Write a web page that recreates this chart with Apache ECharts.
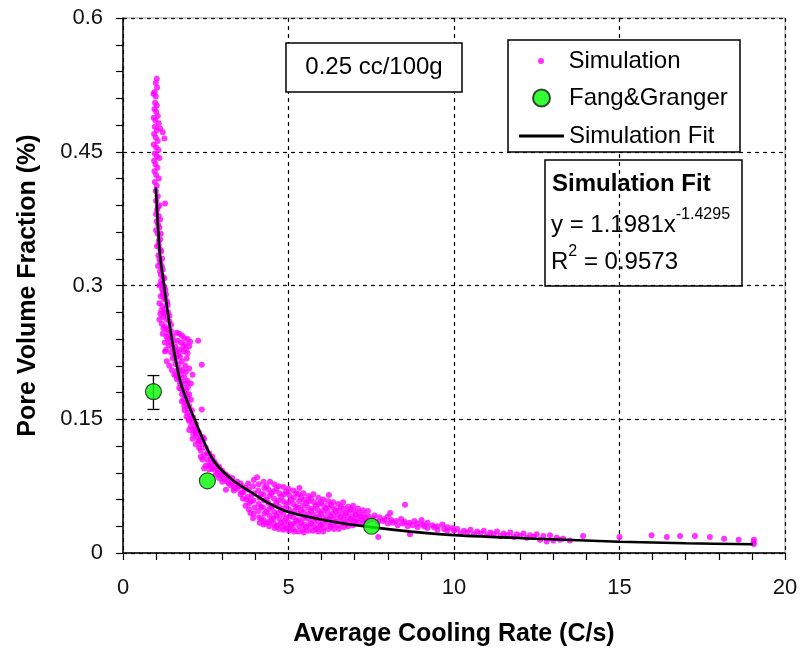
<!DOCTYPE html>
<html>
<head>
<meta charset="utf-8">
<script src="https://cdn.jsdelivr.net/npm/echarts@6/dist/echarts.min.js"></script>
<style>
html,body{margin:0;padding:0;background:#fff;}
#chart{width:802px;height:654px;}
</style>
</head>
<body>
<div id="chart"></div>
<script>
// ---- Data ----
const xTicks = [0, 5, 10, 15, 20];
const yTicks = [0, 0.15, 0.3, 0.45, 0.6];

// Simulation cloud: vertical streak near x~1
const simStreak = [
[1.02,0.532],[0.99,0.527],[1.03,0.522],[0.96,0.517],[0.92,0.515],[0.99,0.512],
[0.97,0.505],[1.02,0.502],[0.95,0.498],[1.0,0.495],[1.05,0.49],[0.93,0.488],[0.98,0.485],
[1.08,0.482],[0.96,0.478],[1.12,0.476],[1.02,0.474],[0.94,0.47],[1.2,0.472],[1.25,0.465],
[0.99,0.466],[1.05,0.462],[0.93,0.458],[1.0,0.455],[1.07,0.452],[0.96,0.448],[1.02,0.445],
[1.1,0.443],[0.94,0.44],[0.98,0.436],[1.04,0.432],[0.95,0.428],[1.0,0.424],[1.08,0.42],
[0.96,0.416],[1.02,0.412],[0.99,0.406],[1.05,0.40],[1.0,0.395],[1.1,0.39],[1.27,0.392],
[1.03,0.385],[1.08,0.378],[1.02,0.372],[1.1,0.365],[1.05,0.358],[1.12,0.352],[1.08,0.345],
[1.15,0.338],[1.1,0.33],[1.17,0.322],[1.12,0.316],[1.2,0.31],[1.15,0.305],[1.22,0.3],[1.28,0.295],
[1.06,0.388],[1.0,0.38],[1.12,0.374],[1.06,0.368],[1.0,0.362],[1.14,0.358],[1.08,0.35],
[1.03,0.344],[1.13,0.34],[1.07,0.334],[1.18,0.33],[1.12,0.326],[1.06,0.322],[1.2,0.318],
[1.14,0.312],[1.25,0.308],[1.1,0.3],[1.18,0.296]
];
// Simulation cloud: knee between y 0.30 and 0.12
const simKnee = [
[1.17,0.302],[1.25,0.298],[1.21,0.294],[1.3,0.29],[1.14,0.288],[1.24,0.285],[1.33,0.282],
[1.1,0.28],[1.19,0.277],[1.28,0.274],[1.36,0.27],[1.13,0.268],[1.22,0.265],[1.32,0.262],
[1.4,0.26],[1.17,0.257],[1.27,0.254],[1.36,0.251],[1.45,0.249],[1.2,0.246],[1.31,0.243],
[1.42,0.24],[1.5,0.243],[1.62,0.247],[1.7,0.246],[1.78,0.244],[1.85,0.241],[1.95,0.24],
[2.03,0.237],[2.27,0.238],[1.65,0.238],[1.75,0.236],[1.88,0.234],[1.26,0.236],[1.38,0.233],
[1.48,0.231],[1.58,0.232],[1.7,0.228],[1.82,0.226],[1.95,0.224],[1.3,0.228],[1.45,0.225],
[1.55,0.222],[1.27,0.226],[1.32,0.215],[1.4,0.21],[1.48,0.205],[1.55,0.2],[1.63,0.195],
[1.72,0.19],[1.8,0.185],[1.6,0.218],[1.68,0.212],[1.78,0.215],[1.88,0.21],[2.0,0.207],
[2.38,0.211],[2.1,0.2],[1.65,0.205],[1.75,0.2],[1.85,0.197],[1.95,0.193],[2.05,0.19],
[1.7,0.185],[1.78,0.178],[1.9,0.182],[2.0,0.178],[1.82,0.172],[1.9,0.168],[2.0,0.165],
[1.86,0.16],[1.95,0.157],[2.05,0.154],[2.38,0.161],[1.98,0.15],[2.1,0.147],[2.05,0.142],
[2.15,0.14],[2.25,0.137],[2.12,0.134],[2.22,0.131],[2.35,0.13],[2.45,0.128],
[1.2,0.29],[1.28,0.286],[1.35,0.278],[1.16,0.272],[1.25,0.27],[1.3,0.268],[1.4,0.266],
[1.1,0.262],[1.45,0.256],[1.22,0.252],[1.32,0.25],[1.4,0.245],[1.52,0.238],[1.35,0.24],
[1.44,0.236],[1.55,0.228],[1.62,0.226],[1.5,0.218],[1.58,0.212],[1.66,0.222],[1.72,0.22],
[1.82,0.232],[1.9,0.228],[2.0,0.232],[1.92,0.218],[1.7,0.206],[1.8,0.205],[1.9,0.203],
[1.6,0.2],[1.68,0.196],[1.78,0.192],[1.88,0.19],[1.96,0.186],[1.75,0.184],[1.85,0.18],
[1.95,0.175],[1.88,0.176],[1.78,0.17],[1.95,0.17],[2.05,0.172],[1.85,0.165],[1.95,0.162],
[2.08,0.16],[1.92,0.153],[2.0,0.148],[2.12,0.152],[2.2,0.145],[2.0,0.138],[2.18,0.138],
[2.3,0.135],[2.1,0.128],[2.28,0.126],[2.4,0.13],[2.2,0.122]
];
// Simulation cloud: bend between x 2.2 and 3.9
const simBend = [
[2.2,0.135],[2.3,0.125],[2.4,0.122],[2.35,0.115],[2.5,0.118],[2.45,0.11],[2.6,0.112],
[2.55,0.105],[2.7,0.108],[2.65,0.1],[2.8,0.1],[2.75,0.095],[2.9,0.097],[2.85,0.09],
[3.0,0.092],[2.95,0.087],[3.1,0.088],[3.05,0.083],[3.2,0.085],[3.15,0.08],[3.3,0.08],
[3.25,0.076],[3.4,0.078],[3.35,0.073],[3.5,0.075],[2.4,0.105],[2.5,0.098],[2.45,0.095],
[2.6,0.094],[2.3,0.118],[3.11,0.071],[3.35,0.07],[3.64,0.068],[3.89,0.065],
[2.35,0.108],[2.55,0.112],[2.65,0.106],[2.75,0.103],[2.6,0.098],[2.7,0.094],[2.85,0.095],
[2.95,0.093],[2.8,0.088],[2.9,0.084],[3.05,0.089],[3.15,0.086],[3.0,0.08],[3.2,0.078],
[3.3,0.084],[3.45,0.08],[3.45,0.072],[3.55,0.078],[3.7,0.073],[3.55,0.066],[3.72,0.06],
[3.86,0.058],[3.7,0.053],[3.85,0.045]
];
// Simulation cloud: wide cluster between x 3.6 and 7.4
const simCloud = [
[3.6,0.075],[3.6,0.068],[3.62,0.061],
[3.78,0.078],[3.8,0.071],[3.77,0.063],[3.82,0.056],[3.8,0.049],
[3.95,0.082],[3.93,0.075],[3.96,0.067],[3.94,0.059],[3.97,0.051],[3.95,0.044],[3.93,0.039],
[4.05,0.085],[4.1,0.077],[4.08,0.07],[4.12,0.062],[4.1,0.055],[4.09,0.047],[4.11,0.04],[4.13,0.034],
[4.25,0.08],[4.27,0.073],[4.24,0.066],[4.26,0.059],[4.23,0.051],[4.27,0.044],[4.25,0.037],[4.24,0.032],
[4.44,0.08],[4.4,0.071],[4.42,0.064],[4.39,0.056],[4.41,0.049],[4.43,0.042],[4.4,0.035],[4.42,0.03],
[4.57,0.077],[4.55,0.069],[4.56,0.061],[4.54,0.053],[4.57,0.046],[4.55,0.039],[4.56,0.033],[4.58,0.028],
[4.7,0.075],[4.72,0.067],[4.69,0.059],[4.71,0.052],[4.7,0.045],[4.73,0.038],[4.7,0.031],[4.71,0.027],
[4.85,0.074],[4.87,0.066],[4.84,0.058],[4.86,0.05],[4.85,0.043],[4.88,0.036],[4.86,0.03],[4.84,0.026],
[5.0,0.072],[5.02,0.065],[4.99,0.057],[5.01,0.049],[5.03,0.041],[5.0,0.034],[5.02,0.028],[5.01,0.025],
[5.15,0.07],[5.16,0.062],[5.14,0.055],[5.17,0.047],[5.15,0.04],[5.16,0.033],[5.14,0.027],[5.17,0.024],
[5.33,0.073],[5.3,0.066],[5.32,0.058],[5.29,0.051],[5.31,0.044],[5.3,0.037],[5.32,0.03],[5.3,0.024],
[5.45,0.067],[5.47,0.06],[5.44,0.053],[5.46,0.046],[5.45,0.039],[5.47,0.032],[5.44,0.026],[5.46,0.023],
[5.6,0.064],[5.62,0.058],[5.59,0.051],[5.61,0.044],[5.6,0.038],[5.62,0.031],[5.61,0.025],
[5.75,0.066],[5.77,0.057],[5.74,0.05],[5.76,0.043],[5.75,0.036],[5.77,0.03],[5.74,0.025],
[5.9,0.062],[5.92,0.055],[5.89,0.048],[5.91,0.041],[5.9,0.035],[5.92,0.029],[5.9,0.024],
[6.05,0.06],[6.07,0.053],[6.04,0.047],[6.06,0.04],[6.05,0.034],[6.07,0.028],[6.05,0.024],
[6.22,0.065],[6.2,0.058],[6.21,0.051],[6.19,0.045],[6.22,0.039],[6.2,0.033],[6.21,0.027],
[6.35,0.057],[6.37,0.05],[6.34,0.044],[6.36,0.038],[6.35,0.032],[6.37,0.027],
[6.5,0.055],[6.52,0.048],[6.49,0.042],[6.51,0.036],[6.5,0.031],[6.52,0.027],
[6.65,0.057],[6.67,0.05],[6.64,0.044],[6.66,0.038],[6.65,0.033],[6.67,0.029],
[6.8,0.052],[6.82,0.046],[6.79,0.04],[6.81,0.035],[6.8,0.03],
[6.95,0.053],[6.97,0.047],[6.94,0.041],[6.96,0.036],[6.95,0.031],
[7.1,0.05],[7.12,0.045],[7.09,0.039],[7.11,0.034],
[7.25,0.048],[7.27,0.043],[7.24,0.037],[7.26,0.033],
[7.4,0.047],[7.42,0.041],[7.39,0.036],
[4.17,0.066],[4.17,0.052],[4.17,0.038],[4.33,0.075],[4.33,0.06],[4.33,0.046],[4.33,0.033],
[4.48,0.067],[4.48,0.052],[4.48,0.037],[4.63,0.072],[4.63,0.056],[4.63,0.042],[4.63,0.03],
[4.78,0.063],[4.78,0.048],[4.78,0.034],[4.93,0.069],[4.93,0.054],[4.93,0.039],[4.93,0.028],
[5.08,0.06],[5.08,0.045],[5.08,0.031],[5.23,0.067],[5.23,0.052],[5.23,0.036],[5.38,0.062],
[5.38,0.048],[5.38,0.034],[5.53,0.056],[5.53,0.041],[5.53,0.029],[5.68,0.061],[5.68,0.047],
[5.68,0.033],[5.83,0.053],[5.83,0.039],[5.83,0.027],[5.98,0.057],[5.98,0.044],[5.98,0.031],
[6.13,0.05],[6.13,0.037],[6.28,0.054],[6.28,0.041],[6.28,0.03],[6.43,0.047],[6.43,0.035],
[6.58,0.052],[6.58,0.04],[6.73,0.045],[6.73,0.033],[6.88,0.049],[6.88,0.038],[7.03,0.043],
[7.03,0.035],[7.18,0.041],[7.33,0.039]
];
// Simulation cloud: long tail
const simTail = [
[7.6,0.042],[7.75,0.04],[7.9,0.038],[8.0,0.041],[8.1,0.037],[8.25,0.036],[8.4,0.038],
[8.5,0.035],[8.65,0.034],[8.8,0.036],[8.9,0.033],[9.05,0.032],[9.2,0.034],[9.35,0.031],
[9.5,0.03],[9.65,0.032],[9.8,0.029],[9.95,0.028],[7.7,0.035],[8.0,0.033],[8.3,0.031],
[8.6,0.03],[8.9,0.029],[9.2,0.028],[9.5,0.026],[9.8,0.025],[8.52,0.054],[8.07,0.045],
[9.02,0.037],[7.71,0.018],[8.67,0.021],
[10.1,0.027],[10.3,0.025],[10.5,0.026],[10.7,0.024],[10.9,0.025],[11.1,0.023],[11.3,0.024],
[11.5,0.022],[11.7,0.023],[11.9,0.021],[12.1,0.022],[12.3,0.02],[12.5,0.021],[12.7,0.019],
[12.9,0.02],[13.1,0.017],[13.3,0.016],[13.5,0.014],[10.2,0.022],[10.6,0.021],[11.0,0.02],
[11.4,0.019],[11.8,0.018],[12.2,0.017],[12.6,0.015],[12.8,0.013],[13.0,0.014],[13.9,0.019],
[7.55,0.038],[7.85,0.036],[8.15,0.034],[8.45,0.033],[8.75,0.031],[9.1,0.03],[9.4,0.029],
[9.7,0.027],[10.0,0.025],[10.4,0.023],[10.8,0.022],[11.2,0.021],[11.6,0.02],[12.0,0.019],
[12.4,0.018],[13.2,0.015],
[15.0,0.018],[15.97,0.02],[16.43,0.018],[16.83,0.019],[17.28,0.019],[17.73,0.018],
[18.16,0.016],[18.6,0.015],[19.06,0.015],[19.05,0.012],[19.06,0.01]
];

// Fang & Granger measurements (error bar only on the first one)
const fangX = [0.92, 2.55, 7.51];
const fangY = [0.181, 0.081, 0.030];
const fangLow = [0.161, 0.081, 0.030];
const fangHigh = [0.199, 0.081, 0.030];

// Simulation fit curve
const fitX = [0.99, 1.05, 1.12, 1.22, 1.32, 1.5, 1.75, 2.15, 2.73, 3.3, 3.84, 4.4, 5.0, 6.35, 7.5, 8.7, 10.0, 12.5, 15.0, 17.0, 19.03];
const fitY = [0.41, 0.37, 0.333, 0.306, 0.278, 0.235, 0.19, 0.151, 0.104, 0.082, 0.069, 0.056, 0.046, 0.035, 0.029, 0.024, 0.020, 0.016, 0.0127, 0.011, 0.0098];

// ---- Build chart ----
const FONT = "'Liberation Sans', Arial, sans-serif";
const simData = [].concat(simStreak, simKnee, simBend, simCloud, simTail);
const fangData = fangX.map((x, i) => [x, fangY[i]]);
const errData = fangX.map((x, i) => [x, fangLow[i], fangHigh[i]]).filter(d => d[2] > d[1]);
const fitData = fitX.map((x, i) => [x, fitY[i]]);

const chart = echarts.init(document.getElementById('chart'), null, {renderer: 'canvas'});

const legendCommon = {
  orient: 'vertical', padding: 0, itemWidth: 45, selectedMode: false,
  textStyle: {fontFamily: FONT, fontSize: 24, color: '#000', lineHeight: 24}, z: 10
};

chart.setOption({
  animation: false,
  backgroundColor: '#fff',
  grid: {left: 123, right: 17, top: 18, bottom: 101, show: true, borderColor: '#a0a0a0', borderWidth: 1, backgroundColor: 'transparent'},
  xAxis: {
    type: 'value', min: xTicks[0], max: xTicks[xTicks.length - 1], interval: 5,
    name: 'Average Cooling Rate (C/s)', nameLocation: 'middle', nameGap: 69,
    nameTextStyle: {fontFamily: FONT, fontSize: 25, fontWeight: 'bold', color: '#000'},
    axisLine: {show: true, onZero: false, lineStyle: {color: '#000', width: 1.5}},
    axisTick: {show: true, inside: false, length: 7, lineStyle: {color: '#000', width: 1.2}},
    minorTick: {show: true, splitNumber: 5, length: 7, lineStyle: {color: '#000', width: 1.2}},
    axisLabel: {margin: 24, fontFamily: FONT, fontSize: 22, color: '#111'},
    splitLine: {show: true, lineStyle: {color: '#000', type: [4, 4], width: 1.2}}
  },
  yAxis: {
    type: 'value', min: yTicks[0], max: yTicks[yTicks.length - 1], interval: 0.15,
    name: 'Pore Volume Fraction (%)', nameLocation: 'middle', nameGap: 82,
    nameTextStyle: {fontFamily: FONT, fontSize: 25, fontWeight: 'bold', color: '#000'},
    axisLine: {show: true, onZero: false, lineStyle: {color: '#000', width: 1.5}},
    axisTick: {show: true, inside: false, length: 7, lineStyle: {color: '#000', width: 1.2}},
    minorTick: {show: true, splitNumber: 5, length: 7, lineStyle: {color: '#000', width: 1.2}},
    axisLabel: {margin: 20, fontFamily: FONT, fontSize: 22, color: '#111'},
    splitLine: {show: true, lineStyle: {color: '#000', type: [4, 4], width: 1.2}}
  },
  legend: [
    Object.assign({}, legendCommon, {left: 538, top: 49, itemHeight: 6, data: [{name: 'Simulation', icon: 'circle'}]}),
    Object.assign({}, legendCommon, {left: 532, top: 86, itemHeight: 17, data: [{name: 'Fang&Granger', icon: 'circle'}]}),
    Object.assign({}, legendCommon, {left: 519, top: 124, itemHeight: 3, data: [{name: 'Simulation Fit', icon: 'rect', itemStyle: {color: '#000'}}]})
  ],
  series: [
    {
      name: 'Simulation', type: 'scatter', data: simData, symbol: 'circle', symbolSize: 6,
      itemStyle: {color: '#ff00ff'}, z: 2, silent: true
    },
    {
      name: 'Simulation Fit', type: 'line', data: fitData, smooth: 0.3, symbol: 'none', showSymbol: false,
      lineStyle: {color: '#000', width: 2.6}, itemStyle: {color: '#000'}, z: 3, silent: true
    },
    {
      name: 'errbar', type: 'custom', data: errData, z: 4, silent: true,
      renderItem: function (params, api) {
        const x = api.value(0);
        const lo = api.coord([x, api.value(1)]);
        const hi = api.coord([x, api.value(2)]);
        const cap = 6;
        const st = {stroke: '#000', lineWidth: 1.3};
        return {
          type: 'group', children: [
            {type: 'line', shape: {x1: lo[0], y1: lo[1], x2: hi[0], y2: hi[1]}, style: st},
            {type: 'line', shape: {x1: lo[0] - cap, y1: lo[1], x2: lo[0] + cap, y2: lo[1]}, style: st},
            {type: 'line', shape: {x1: hi[0] - cap, y1: hi[1], x2: hi[0] + cap, y2: hi[1]}, style: st}
          ]
        };
      }
    },
    {
      name: 'Fang&Granger', type: 'scatter', data: fangData, symbol: 'circle', symbolSize: 16,
      itemStyle: {color: '#00ff00', borderColor: '#1a1a1a', borderWidth: 1.2}, z: 5, silent: true
    }
  ],
  graphic: [
    {type: 'rect', z: 5, shape: {x: 508, y: 40, width: 232, height: 112}, style: {fill: '#fff', stroke: '#000', lineWidth: 1.5}},
    {type: 'rect', z: 5, shape: {x: 286, y: 43, width: 176, height: 49}, style: {fill: '#fff', stroke: '#000', lineWidth: 1.5}},
    {type: 'text', z: 6, style: {text: '0.25 cc/100g', x: 374, y: 67.5, align: 'center', verticalAlign: 'middle', font: "24px " + FONT, fill: '#000'}},
    {type: 'rect', z: 5, shape: {x: 545, y: 160, width: 197, height: 126}, style: {fill: 'none', stroke: '#000', lineWidth: 1.5}},
    {type: 'text', z: 6, style: {text: 'Simulation Fit', x: 552, y: 184, align: 'left', verticalAlign: 'middle', font: "bold 24px " + FONT, fill: '#000'}},
    {type: 'text', z: 6, style: {
      text: '{n|y = 1.1981x}{s|-1.4295}', x: 551, y: 225, align: 'left', verticalAlign: 'middle',
      rich: {
        n: {fontFamily: FONT, fontSize: 24, lineHeight: 36, fill: '#000', color: '#000'},
        s: {fontFamily: FONT, fontSize: 16, lineHeight: 12, verticalAlign: 'top', fill: '#000', color: '#000'}
      }
    }},
    {type: 'text', z: 6, style: {
      text: '{n|R}{s|2}{n| = 0.9573}', x: 551, y: 262, align: 'left', verticalAlign: 'middle',
      rich: {
        n: {fontFamily: FONT, fontSize: 24, lineHeight: 36, fill: '#000', color: '#000'},
        s: {fontFamily: FONT, fontSize: 16, lineHeight: 12, verticalAlign: 'top', fill: '#000', color: '#000'}
      }
    }}
  ]
});
</script>
</body>
</html>
